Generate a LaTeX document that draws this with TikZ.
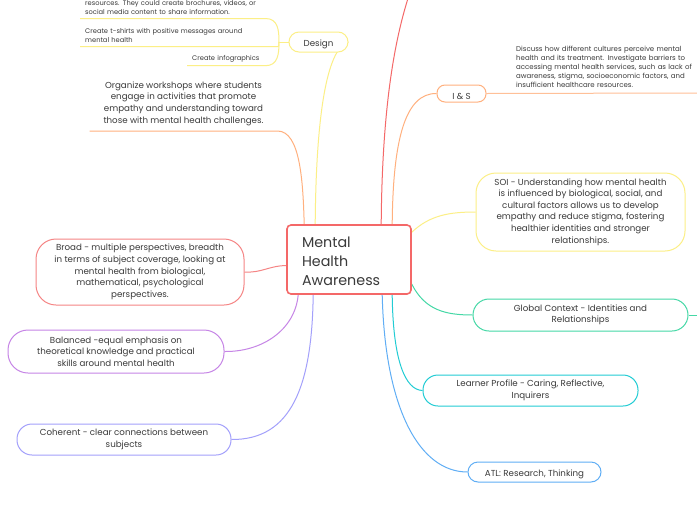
\documentclass[tikz,border=0pt]{standalone}
\usepackage{fontspec}
\setmainfont{Poppins}
\usetikzlibrary{positioning, backgrounds}

\definecolor{ink}{HTML}{3A3A3A}
\definecolor{mhred}{HTML}{F46868}
\definecolor{mhsalmon}{HTML}{F58585}
\definecolor{mhyellow}{HTML}{FCEF86}
\definecolor{mhorange}{HTML}{FFB07E}
\definecolor{mhgreen}{HTML}{45D8A6}
\definecolor{mhcyan}{HTML}{22CCD4}
\definecolor{mhblue}{HTML}{60AEF5}
\definecolor{mhpurple}{HTML}{C685E6}
\definecolor{mhlavender}{HTML}{A3A0FB}

\tikzset{
    topic/.style    = {draw, line width=1pt, fill=white, align=center, text=ink, inner sep=0pt,
                       font=\fontsize{8.7}{11.6}\selectfont,
                       execute at begin node={\rule{0pt}{11.4pt}}},
    note/.style     = {align=left, text=ink, inner xsep=5pt, inner ysep=3.5pt,
                       font=\fontsize{6.7}{9}\selectfont},
    link/.style     = {line width=1pt},
}

\begin{document}
\begin{tikzpicture}[x=1pt, y=-1pt]
    \useasboundingbox                   (0,0) rectangle (697,520);

    % central topic
    \node [draw=mhred, line width=1.6pt, rounded corners=4pt, fill=white, text=ink,
           minimum width=124, minimum height=69, text width=94, align=left, inner sep=0pt,
           font=\fontsize{14.3}{19}\selectfont,
           execute at begin node={\rule{0pt}{15pt}}]                  (mha)      at (349,259.5)  {Mental\\Health\\Awareness};

    % branches
    \node [topic, draw=mhyellow,   rounded corners=10pt, minimum width=59,  minimum height=20] (design)   at (318.5,42)   {Design};
    \node [topic, draw=mhorange,   rounded corners=8pt,  minimum width=49,  minimum height=17] (ins)      at (461.5,93.5) {I \& S};
    \node [topic, draw=mhyellow,   rounded corners=20pt, minimum width=209, minimum height=78] (soi)      at (580.5,212)  {SOI - Understanding how mental health\\is influenced by biological, social, and\\cultural factors allows us to develop\\empathy and reduce stigma, fostering\\healthier identities and stronger\\relationships.};
    \node [topic, draw=mhgreen,    rounded corners=16pt, minimum width=215, minimum height=32] (context)  at (580.5,315)  {Global Context - Identities and\\Relationships};
    \node [topic, draw=mhcyan,     rounded corners=15pt, minimum width=215, minimum height=31] (profile)  at (530.5,390.5){Learner Profile - Caring, Reflective,\\Inquirers};
    \node [topic, draw=mhblue,     rounded corners=10pt, minimum width=133, minimum height=20] (atl)      at (534.5,472)  {ATL: Research, Thinking};
    \node [topic, draw=mhsalmon,   rounded corners=20pt, minimum width=208, minimum height=66] (broad)    at (140,272)    {Broad - multiple perspectives, breadth\\in terms of subject coverage, looking at\\mental health from biological,\\mathematical, psychological\\perspectives.};
    \node [topic, draw=mhpurple,   rounded corners=20pt, minimum width=216, minimum height=43] (balanced) at (116,351.5)  {Balanced -equal emphasis on\\theoretical knowledge and practical\\skills around mental health};
    \node [topic, draw=mhlavender, rounded corners=15pt, minimum width=214, minimum height=31] (coherent) at (124,439.5)  {Coherent - clear connections between\\subjects};

    % underlined sub topics
    \node [topic, draw=none, fill=none, minimum width=187, inner ysep=5pt, anchor=south] (workshop) at (183.5,131) {Organize workshops where students\\engage in activities that promote\\empathy and understanding toward\\those with mental health challenges.};
    \node [note, text width=180, anchor=south west] (brochure) at (80,18.5)  {resources. They could create brochures, videos, or\\social media content to share information.};
    \node [note, text width=187, anchor=south west] (tshirt)   at (80,46.7)  {Create t-shirts with positive messages around\\mental health};
    \node [note, text width=68,  anchor=south west] (infog)    at (187,65.7) {Create infographics};
    \node [note, text width=176, anchor=south west, inner ysep=5pt,
           font=\fontsize{7}{9}\selectfont]        (discuss)  at (511,93)   {Discuss how different cultures perceive mental\\health and its treatment. Investigate barriers to\\accessing mental health services, such as lack of\\awareness, stigma, socioeconomic factors, and\\insufficient healthcare resources.};

    \coordinate (dfork)    at (279,42);       % design fork
    \coordinate (redout)   at (407.5,0);      % red branch leaving the page
    \coordinate (insout)   at (697,93);       % I & S line leaving the page
    \coordinate (ctxout)   at (697,315);      % context line leaving the page

    \begin{scope}[on background layer]
        \fill [white] (0,0) rectangle (697,520);                                                                             % page
        \draw [link, mhyellow]   ([xshift=29]mha.north west) .. controls (316,120) and (326,48) .. (design.east);           % to design
        \draw [link, mhyellow]   (design.west) -- (dfork);                                                                   % design stub
        \draw [link, mhyellow]   (brochure.south west) -- ([xshift=-5]brochure.south east) .. controls (278,18.5) and (279,30) .. (dfork);
        \draw [link, mhyellow]   (tshirt.south west) -- (tshirt.south east) .. controls (279,46.5) .. (dfork);
        \draw [link, mhyellow]   (infog.south west) -- (infog.south east) .. controls (278,65.7) and (279,54) .. (dfork);
        \draw [link, mhorange]   ([xshift=18]mha.north west) .. controls (303,180) and (300,131) .. (workshop.south east) -- (workshop.south west);
        \draw [link, mhred]      ([xshift=95]mha.north west) .. controls (382,120) and (392,50) .. (redout);                % off the page
        \draw [link, mhorange]   ([xshift=106]mha.north west) .. controls (393,140) and (405,93) .. (ins.west);            % to I & S
        \draw [link, mhorange!80](ins.east) -- (insout);
        \draw [link, mhyellow]   ([yshift=-8]mha.north east) .. controls (430,215) and (450,212) .. (soi.west);            % to SOI
        \draw [link, mhgreen]    ([yshift=-60]mha.north east) .. controls (425,310) and (445,315) .. (context.west);       % to context
        \draw [link, mhgreen]    (context.east) -- (ctxout);
        \draw [link, mhcyan]     ([xshift=106]mha.south west) .. controls (393,360) and (405,390) .. (profile.west);       % to profile
        \draw [link, mhblue]     ([xshift=96]mha.south west) .. controls (385,410) and (420,472) .. (atl.west);            % to ATL
        \draw [link, mhsalmon]   ([yshift=-6]mha.west) .. controls (268,266) and (262,273) .. (broad.east);                % to broad
        \draw [link, mhpurple]   ([xshift=12]mha.south west) .. controls (295,330) and (262,352) .. (balanced.east);       % to balanced
        \draw [link, mhlavender] ([xshift=27]mha.south west) .. controls (312,385) and (292,440) .. (coherent.east);       % to coherent
    \end{scope}
\end{tikzpicture}
\end{document}
